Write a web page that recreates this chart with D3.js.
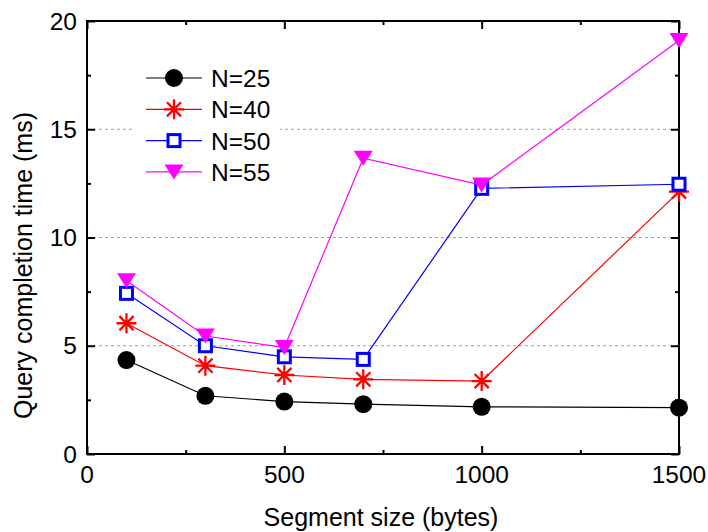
<!DOCTYPE html>
<html>
<head>
<meta charset="utf-8">
<script src="https://cdn.jsdelivr.net/npm/d3@7"></script>
<style>
    body { margin: 0; background: #fff; }
    svg text { font-family: "Liberation Sans", Arial, sans-serif; fill: #000; }
</style>
</head>
<body>
<svg id="chart"></svg>
<script>
// data
const segmentSizes = [100, 300, 500, 700, 1000, 1500];
const n25 = [4.34, 2.69, 2.42, 2.30, 2.18, 2.14];
const n40 = [6.04, 4.08, 3.65, 3.45, 3.37, 12.12];
const n50 = [7.42, 5.00, 4.49, 4.37, 12.27, 12.46];
const n55 = [8.0, 5.45, 4.92, 13.66, 12.42, 19.1];

const seriesNames = ["N=25", "N=40", "N=50", "N=55"];
const seriesValues = [n25, n40, n50, n55];
const seriesColors = ["#000000", "#ff0000", "#0000ff", "#ff00ff"];
const seriesMarkers = ["circle", "star", "square", "triangle"];

const xTicks = [0, 500, 1000, 1500];
const xMinor = [250, 750, 1250];
const yTicks = [0, 5, 10, 15, 20];
const yMinor = [2.5, 7.5, 12.5, 17.5];
const gridValues = [5, 10, 15];

const wsvg = 708;
const hsvg = 532;
const plotLeft = 87, plotRight = 679, plotTop = 21, plotBottom = 454;

const svg = d3.select("#chart")
    .attr("width", wsvg)
    .attr("height", hsvg);

const xScale = d3.scaleLinear([0, 1500], [plotLeft, plotRight]);
const yScale = d3.scaleLinear([0, 20], [plotBottom, plotTop]);

// grid
svg.append("g")
    .selectAll("line")
    .data(gridValues)
    .join("line")
    .attr("x1", plotLeft)
    .attr("x2", plotRight)
    .attr("y1", d => yScale(d))
    .attr("y2", d => yScale(d))
    .attr("stroke", "#a0a0a0")
    .attr("stroke-width", 1)
    .attr("stroke-dasharray", "3,3");

// legend background hides the grid under it
svg.append("rect")
    .attr("x", 132)
    .attr("y", 60)
    .attr("width", 148)
    .attr("height", 132)
    .attr("fill", "#fff");

// axes, ticks inward on all four sides
function tickAxis(axis, values, size) {
    return axis.tickValues(values).tickSize(size).tickFormat("");
}

const frame = svg.append("g").attr("class", "frame");

frame.append("g").attr("transform", `translate(0,${plotBottom})`).call(tickAxis(d3.axisTop(xScale), xTicks, 8));
frame.append("g").attr("transform", `translate(0,${plotBottom})`).call(tickAxis(d3.axisTop(xScale), xMinor, 4));
frame.append("g").attr("transform", `translate(0,${plotTop})`).call(tickAxis(d3.axisBottom(xScale), xTicks, 8));
frame.append("g").attr("transform", `translate(0,${plotTop})`).call(tickAxis(d3.axisBottom(xScale), xMinor, 4));
frame.append("g").attr("transform", `translate(${plotLeft},0)`).call(tickAxis(d3.axisRight(yScale), yTicks, 8));
frame.append("g").attr("transform", `translate(${plotLeft},0)`).call(tickAxis(d3.axisRight(yScale), yMinor, 4));
frame.append("g").attr("transform", `translate(${plotRight},0)`).call(tickAxis(d3.axisLeft(yScale), yTicks, 8));
frame.append("g").attr("transform", `translate(${plotRight},0)`).call(tickAxis(d3.axisLeft(yScale), yMinor, 4));

frame.selectAll(".domain").remove();
frame.selectAll(".tick line").attr("stroke", "#000").attr("stroke-width", 2);

frame.append("rect")
    .attr("x", plotLeft)
    .attr("y", plotTop)
    .attr("width", plotRight - plotLeft)
    .attr("height", plotBottom - plotTop)
    .attr("fill", "none")
    .attr("stroke", "#000")
    .attr("stroke-width", 2);

// tick labels
svg.append("g")
    .selectAll("text")
    .data(xTicks)
    .join("text")
    .attr("x", d => xScale(d))
    .attr("y", plotBottom + 29)
    .attr("text-anchor", "middle")
    .attr("font-size", 24.5)
    .text(d => d);

svg.append("g")
    .selectAll("text")
    .data(yTicks)
    .join("text")
    .attr("x", plotLeft - 10)
    .attr("y", d => yScale(d) + 8.5)
    .attr("text-anchor", "end")
    .attr("font-size", 24.5)
    .text(d => d);

// axis titles
svg.append("text")
    .attr("x", 381)
    .attr("y", 526)
    .attr("text-anchor", "middle")
    .attr("font-size", 25)
    .text("Segment size (bytes)");

svg.append("text")
    .attr("transform", `translate(32,${(plotTop + plotBottom) / 2 + 28}) rotate(-90)`)
    .attr("text-anchor", "middle")
    .attr("font-size", 25)
    .text("Query completion time (ms)");

// markers
function drawMarker(g, type, color) {
    if (type === "circle") {
        g.append("circle").attr("r", 9).attr("fill", color);
    } else if (type === "star") {
        const r = 10;
        const p = d3.path();
        [0, 45, 90, 135].forEach(a => {
            const t = a * Math.PI / 180;
            p.moveTo(-r * Math.cos(t), -r * Math.sin(t));
            p.lineTo(r * Math.cos(t), r * Math.sin(t));
        });
        g.append("path").attr("d", p.toString()).attr("stroke", color).attr("stroke-width", 2.3).attr("fill", "none");
    } else if (type === "square") {
        g.append("rect").attr("x", -6).attr("y", -6).attr("width", 12).attr("height", 12)
            .attr("fill", "#fff").attr("stroke", color).attr("stroke-width", 3);
    } else {
        g.append("path").attr("d", "M-9.5,-7.5L9.5,-7.5L0,7.5Z").attr("fill", color);
    }
}

const line = d3.line()
    .x(d => xScale(d.x))
    .y(d => yScale(d.y));

seriesValues.forEach((values, i) => {
    const points = segmentSizes.map((x, j) => ({ x: x, y: values[j] }));
    const g = svg.append("g");

    g.append("path")
        .datum(points)
        .attr("d", line)
        .attr("fill", "none")
        .attr("stroke", seriesColors[i])
        .attr("stroke-width", 1.2);

    g.selectAll("g.marker")
        .data(points)
        .join("g")
        .attr("class", "marker")
        .attr("transform", d => `translate(${xScale(d.x)},${yScale(d.y)})`)
        .each(function () { drawMarker(d3.select(this), seriesMarkers[i], seriesColors[i]); });
});

// legend
const legend = svg.append("g");
seriesNames.forEach((name, i) => {
    const y = 78 + i * 31.3;
    const row = legend.append("g").attr("transform", `translate(0,${y})`);
    row.append("line")
        .attr("x1", 146).attr("x2", 202)
        .attr("y1", 0).attr("y2", 0)
        .attr("stroke", seriesColors[i])
        .attr("stroke-width", 1.2);
    drawMarker(row.append("g").attr("transform", "translate(174,0)"), seriesMarkers[i], seriesColors[i]);
    row.append("text")
        .attr("x", 211)
        .attr("y", 9)
        .attr("font-size", 24.5)
        .text(name);
});
</script>
</body>
</html>
